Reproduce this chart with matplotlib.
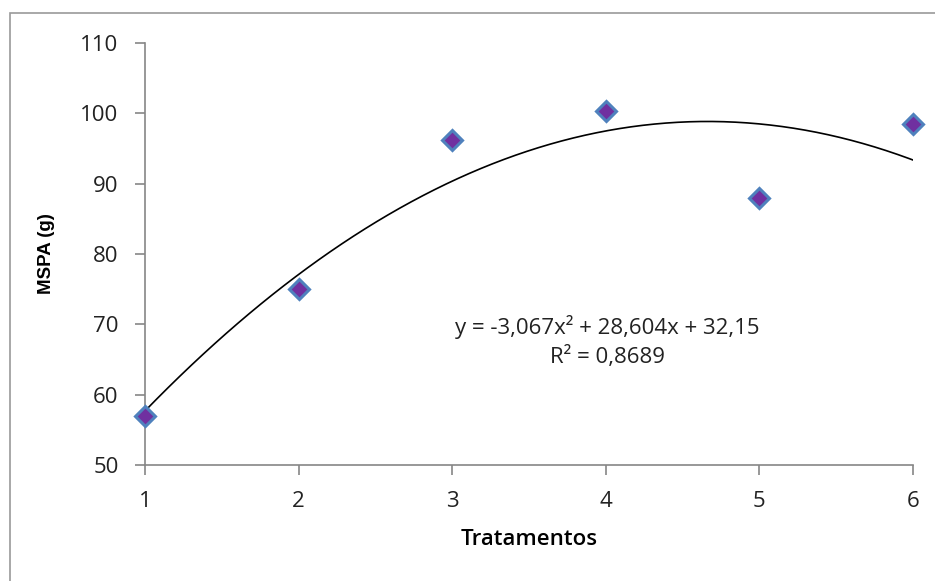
import matplotlib
matplotlib.use("Agg")
import matplotlib.pyplot as plt
import numpy as np
from matplotlib.patches import Rectangle

tratamentos = [1, 2, 3, 4, 5, 6]
mspa = [57.0, 75.0, 96.2, 100.4, 88.0, 98.5]
coef = [-3.067, 28.604, 32.15]  # quadratic trendline y = a x^2 + b x + c
eq_text = "y = -3,067x² + 28,604x + 32,15"
r2_text = "R² = 0,8689"
xticks = [1, 2, 3, 4, 5, 6]
yticks = [50, 60, 70, 80, 90, 100, 110]

fig = plt.figure(figsize=(9.35, 5.81), dpi=100)
fig.patch.set_facecolor("white")
# outer chart-area border
fig.patches.append(Rectangle((10/935, -0.05), 1.0, 1 - 13/581 + 0.05, transform=fig.transFigure,
                             fill=False, edgecolor="#9a9a9a", linewidth=1.2))

ax = fig.add_axes([145/935, 1 - 465/581, (913 - 145)/935, (465 - 43)/581])

xs = np.linspace(1, 6, 200)
ax.plot(xs, np.polyval(coef, xs), color="black", linewidth=1.2, zorder=2)
ax.plot(tratamentos, mspa, linestyle="none", marker="D", markersize=10.5,
        markerfacecolor="#7030A0", markeredgecolor="#4F81BD", markeredgewidth=2.2,
        zorder=3, clip_on=False)

ax.set_xlim(1, 6)
ax.set_ylim(50, 110)
ax.set_xticks(xticks)
ax.set_yticks(yticks)
for s in ["top", "right"]:
    ax.spines[s].set_visible(False)
for s in ["left", "bottom"]:
    ax.spines[s].set_color("#868686")
    ax.spines[s].set_linewidth(1.2)
ax.tick_params(axis="both", direction="out", length=7, width=1.2, color="#868686",
               labelsize=16, labelcolor="#222222")
ax.tick_params(axis="y", pad=12)
ax.tick_params(axis="x", pad=12)
for lbl in ax.get_xticklabels() + ax.get_yticklabels():
    lbl.set_family("Open Sans")

ax.set_ylabel("MSPA (g)", family="Liberation Sans", fontweight="bold", fontsize=13.5, labelpad=18)
ax.set_xlabel("Tratamentos", family="Open Sans", fontweight="semibold", fontsize=16, labelpad=12)

ax.text(4.01, 69.6, eq_text, ha="center", va="center", fontsize=16, family="Open Sans", color="#222222")
ax.text(4.01, 65.4, r2_text, ha="center", va="center", fontsize=16, family="Open Sans", color="#222222")

fig.savefig("out.png", dpi=100, facecolor="white")
